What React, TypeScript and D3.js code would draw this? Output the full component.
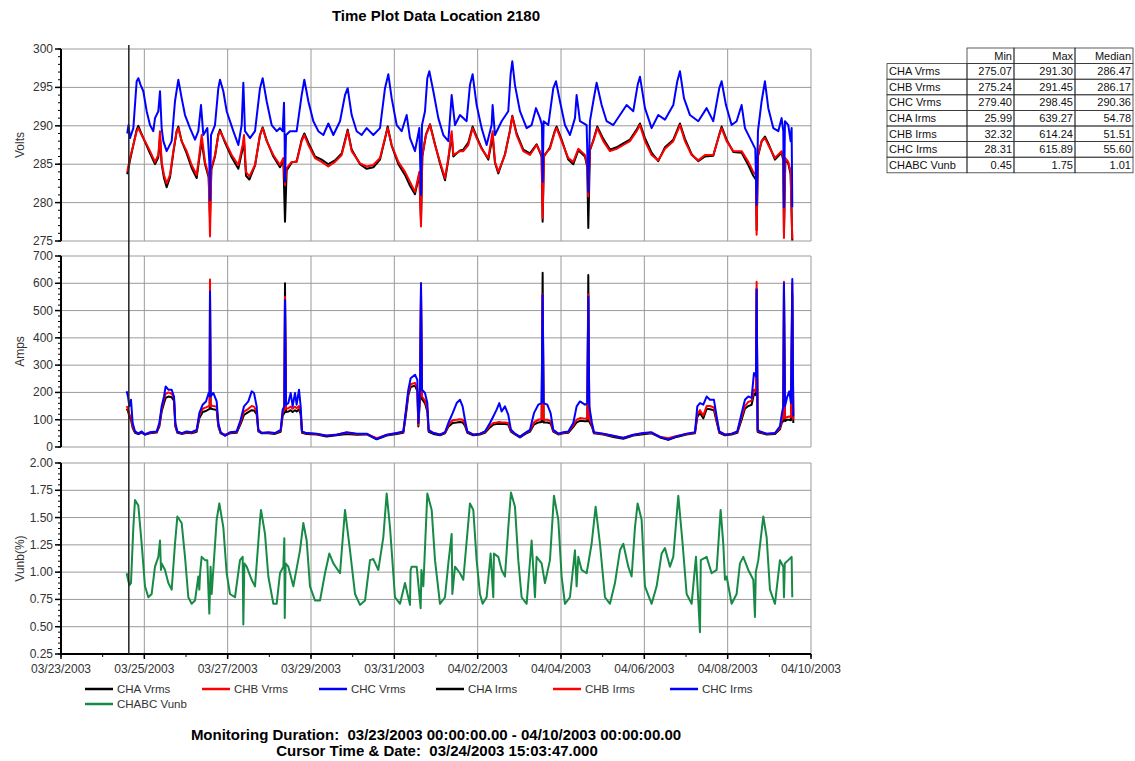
import { useRef, useEffect } from "react";
import * as d3 from "d3";

type Pt = [number, number];

// x values are days since 03/23/2003 00:00
const dateTicks = [0, 2, 4, 6, 8, 10, 12, 14, 16, 18];
const dateLabels = [
  "03/23/2003", "03/25/2003", "03/27/2003", "03/29/2003", "03/31/2003",
  "04/02/2003", "04/04/2003", "04/06/2003", "04/08/2003", "04/10/2003",
];
const cursorDay = 1 + (15 + 3 / 60 + 47 / 3600) / 24;

const chcVrms: Pt[] = [
  [1.59, 289.0], [1.62, 290.1], [1.656, 288.4], [1.736, 289.7], [1.816, 295.8], [1.856, 296.2], [1.912, 295.3],
  [1.976, 294.5], [2.056, 291.9], [2.136, 290.1], [2.216, 289.3], [2.256, 291.0], [2.336, 291.9], [2.376, 294.5],
  [2.416, 289.7], [2.456, 288.0], [2.536, 286.7], [2.656, 288.0], [2.736, 293.2], [2.816, 296.0], [2.896, 293.6],
  [2.976, 291.4], [3.096, 289.7], [3.216, 288.2], [3.296, 289.3], [3.36, 292.7], [3.416, 288.8], [3.512, 289.7],
  [3.56, 285.3], [3.576, 280.3], [3.6, 288.8], [3.696, 290.1], [3.776, 294.9], [3.816, 296.0], [3.896, 294.5],
  [3.976, 291.9], [4.136, 289.3], [4.256, 287.5], [4.336, 290.1], [4.376, 295.6], [4.416, 289.3], [4.536, 288.4],
  [4.656, 289.3], [4.776, 294.9], [4.84, 296.2], [4.936, 293.2], [5.056, 290.1], [5.176, 289.3], [5.256, 289.7],
  [5.32, 289.3], [5.352, 293.0], [5.368, 288.0], [5.376, 282.7], [5.4, 288.8], [5.496, 289.3], [5.656, 289.3],
  [5.776, 294.0], [5.84, 296.0], [5.936, 293.2], [6.056, 290.6], [6.176, 289.3], [6.296, 288.8], [6.416, 290.3],
  [6.536, 288.8], [6.696, 290.6], [6.816, 294.0], [6.88, 294.9], [6.976, 291.4], [7.096, 289.3], [7.216, 288.8],
  [7.336, 289.7], [7.496, 288.8], [7.656, 289.7], [7.776, 294.9], [7.856, 296.7], [7.936, 293.6], [8.056, 290.1],
  [8.176, 289.3], [8.296, 291.4], [8.376, 288.4], [8.496, 286.7], [8.6, 289.7], [8.64, 281.0], [8.664, 290.1],
  [8.736, 291.9], [8.792, 296.2], [8.84, 297.1], [8.936, 294.5], [9.056, 291.0], [9.176, 288.8], [9.296, 288.0],
  [9.376, 294.0], [9.456, 290.1], [9.576, 291.4], [9.735, 290.6], [9.815, 295.3], [9.879, 296.7], [9.975, 292.7],
  [10.095, 289.7], [10.215, 287.5], [10.335, 290.1], [10.359, 292.7], [10.415, 288.8], [10.575, 290.6],
  [10.735, 291.9], [10.791, 296.7], [10.831, 298.4], [10.895, 295.3], [11.015, 291.9], [11.175, 289.7],
  [11.295, 290.1], [11.399, 292.3], [11.495, 291.0], [11.543, 290.1], [11.559, 282.7], [11.583, 290.6],
  [11.695, 290.1], [11.815, 294.9], [11.879, 295.8], [11.975, 293.2], [12.095, 290.1], [12.215, 288.8],
  [12.335, 291.0], [12.375, 294.0], [12.455, 290.6], [12.615, 290.1], [12.655, 281.4], [12.695, 290.6],
  [12.775, 293.2], [12.855, 295.6], [12.975, 292.7], [13.095, 290.6], [13.255, 290.1], [13.415, 291.4],
  [13.575, 292.7], [13.735, 291.9], [13.839, 295.3], [13.895, 296.4], [14.015, 292.3], [14.175, 289.7],
  [14.335, 291.4], [14.495, 290.8], [14.695, 292.7], [14.791, 295.8], [14.855, 297.1], [14.951, 293.6],
  [15.095, 291.4], [15.295, 290.6], [15.495, 292.3], [15.655, 290.6], [15.799, 294.9], [15.855, 295.8],
  [15.959, 292.7], [16.095, 290.1], [16.215, 290.6], [16.335, 292.7], [16.415, 289.7], [16.535, 288.4],
  [16.663, 287.0], [16.695, 279.7], [16.727, 289.3], [16.815, 293.2], [16.895, 295.8], [16.975, 292.3],
  [17.095, 289.7], [17.215, 289.3], [17.295, 291.0], [17.335, 289.3], [17.351, 279.4], [17.375, 290.6],
  [17.455, 290.1], [17.511, 288.0], [17.535, 289.7], [17.551, 279.4],
];

const chbVrms: Pt[] = [
  [1.59, 284.0], [1.656, 285.8], [1.736, 287.5], [1.816, 289.3], [1.856, 289.7], [1.936, 288.8], [2.016, 288.0],
  [2.136, 286.7], [2.256, 285.3], [2.336, 286.2], [2.376, 289.3], [2.416, 285.3], [2.472, 283.6], [2.536, 282.5],
  [2.616, 283.6], [2.696, 286.7], [2.776, 289.3], [2.816, 289.7], [2.896, 288.0], [3.016, 286.7], [3.136, 284.9],
  [3.256, 283.6], [3.32, 286.2], [3.376, 288.8], [3.456, 285.3], [3.544, 283.6], [3.576, 275.6], [3.608, 284.5],
  [3.696, 286.2], [3.776, 288.8], [3.816, 289.3], [3.936, 288.0], [4.096, 286.2], [4.256, 284.9], [4.36, 287.5],
  [4.392, 288.8], [4.44, 284.0], [4.52, 283.4], [4.656, 284.9], [4.776, 288.8], [4.84, 289.7], [4.936, 288.0],
  [5.096, 286.2], [5.256, 284.9], [5.336, 285.8], [5.376, 282.3], [5.416, 284.5], [5.536, 285.3], [5.656, 285.3],
  [5.776, 288.0], [5.84, 288.8], [5.936, 287.5], [6.096, 285.8], [6.256, 285.3], [6.416, 284.7], [6.576, 285.3],
  [6.736, 286.2], [6.88, 289.3], [6.976, 286.7], [7.176, 285.1], [7.336, 284.7], [7.496, 284.9], [7.656, 285.8],
  [7.776, 288.4], [7.84, 289.7], [7.936, 287.5], [8.096, 285.3], [8.256, 284.0], [8.376, 282.7], [8.496, 281.4],
  [8.6, 284.0], [8.64, 276.9], [8.672, 286.2], [8.76, 288.8], [8.856, 290.1], [8.976, 287.5], [9.096, 285.3],
  [9.216, 283.2], [9.296, 285.8], [9.376, 289.3], [9.416, 286.2], [9.576, 286.7], [9.655, 286.7], [9.775, 287.5],
  [9.879, 289.7], [9.975, 288.4], [10.095, 287.0], [10.255, 285.8], [10.359, 289.3], [10.415, 285.3],
  [10.495, 284.0], [10.655, 286.2], [10.775, 289.3], [10.831, 291.2], [10.935, 288.8], [11.095, 286.7],
  [11.255, 286.2], [11.415, 287.5], [11.535, 286.2], [11.559, 278.0], [11.591, 286.2], [11.735, 287.0],
  [11.855, 289.3], [11.895, 289.7], [12.015, 288.0], [12.175, 285.8], [12.295, 285.3], [12.415, 287.0],
  [12.575, 286.2], [12.631, 284.9], [12.655, 280.8], [12.695, 287.0], [12.775, 288.0], [12.871, 289.7],
  [13.015, 288.0], [13.175, 286.7], [13.335, 287.0], [13.495, 287.5], [13.655, 288.0], [13.815, 289.3],
  [13.895, 290.1], [14.015, 288.0], [14.175, 286.2], [14.335, 285.5], [14.495, 287.0], [14.695, 288.0],
  [14.855, 290.1], [14.975, 288.0], [15.135, 286.2], [15.295, 285.5], [15.455, 286.2], [15.655, 286.2],
  [15.799, 288.8], [15.855, 289.7], [15.975, 288.0], [16.135, 286.7], [16.335, 286.7], [16.495, 285.3],
  [16.615, 284.0], [16.679, 283.6], [16.695, 275.8], [16.727, 286.2], [16.815, 288.0], [16.895, 288.4],
  [16.975, 287.5], [17.135, 285.8], [17.295, 286.7], [17.335, 285.8], [17.351, 275.4], [17.383, 285.8],
  [17.455, 285.3], [17.511, 284.0], [17.551, 275.24],
];

const chaVrms: Pt[] = [
  [1.59, 283.7], [1.656, 285.5], [1.736, 287.5], [1.816, 289.5], [1.856, 290.0], [1.936, 288.9], [2.016, 287.9],
  [2.136, 286.4], [2.256, 285.0], [2.336, 285.9], [2.376, 288.5], [2.416, 285.0], [2.472, 283.2], [2.536, 282.0],
  [2.616, 283.3], [2.696, 286.5], [2.776, 289.3], [2.816, 289.9], [2.896, 288.0], [3.016, 286.4], [3.136, 284.5],
  [3.256, 283.2], [3.32, 285.8], [3.376, 288.0], [3.456, 285.0], [3.544, 283.3], [3.576, 278.0], [3.608, 284.3],
  [3.696, 286.0], [3.776, 288.9], [3.816, 289.5], [3.936, 287.8], [4.096, 285.9], [4.256, 284.4], [4.36, 287.0],
  [4.392, 288.0], [4.44, 283.5], [4.52, 283.0], [4.656, 284.8], [4.776, 288.8], [4.84, 289.8], [4.936, 288.1],
  [5.096, 286.0], [5.256, 284.6], [5.336, 285.5], [5.376, 277.5], [5.416, 284.2], [5.536, 285.2], [5.656, 285.4],
  [5.776, 288.2], [5.84, 289.0], [5.936, 287.8], [6.096, 286.0], [6.256, 285.6], [6.416, 285.0], [6.576, 285.5],
  [6.736, 286.4], [6.88, 289.5], [6.976, 286.9], [7.176, 285.0], [7.336, 284.4], [7.496, 284.6], [7.656, 285.6],
  [7.776, 288.3], [7.84, 289.9], [7.936, 287.4], [8.096, 285.0], [8.256, 283.6], [8.376, 282.2], [8.496, 281.1],
  [8.6, 283.7], [8.64, 277.5], [8.672, 286.0], [8.76, 288.9], [8.856, 290.2], [8.976, 287.6], [9.096, 285.1],
  [9.216, 282.9], [9.296, 285.6], [9.376, 288.8], [9.416, 286.0], [9.576, 286.8], [9.655, 286.9], [9.775, 287.8],
  [9.879, 289.9], [9.975, 288.6], [10.095, 287.1], [10.255, 285.6], [10.359, 288.6], [10.415, 285.2],
  [10.495, 283.8], [10.655, 286.3], [10.775, 289.4], [10.831, 291.3], [10.935, 289.0], [11.095, 286.9],
  [11.255, 286.4], [11.415, 287.6], [11.535, 286.0], [11.559, 277.5], [11.591, 286.0], [11.735, 287.2],
  [11.855, 289.4], [11.895, 289.9], [12.015, 288.2], [12.175, 285.6], [12.295, 285.0], [12.415, 286.8],
  [12.575, 286.0], [12.631, 284.6], [12.655, 276.7], [12.695, 286.8], [12.775, 288.1], [12.871, 289.9],
  [13.015, 288.3], [13.175, 286.9], [13.335, 287.2], [13.495, 287.7], [13.655, 288.2], [13.815, 289.5],
  [13.895, 290.3], [14.015, 288.4], [14.175, 286.5], [14.335, 285.4], [14.495, 287.2], [14.695, 288.2],
  [14.855, 290.3], [14.975, 288.3], [15.135, 286.3], [15.295, 285.4], [15.455, 286.0], [15.655, 286.1],
  [15.799, 288.9], [15.855, 289.9], [15.975, 288.2], [16.135, 286.6], [16.335, 286.5], [16.495, 284.9],
  [16.615, 283.5], [16.679, 283.0], [16.695, 276.4], [16.727, 286.0], [16.815, 288.0], [16.895, 288.6],
  [16.975, 287.7], [17.135, 285.6], [17.295, 286.5], [17.335, 285.5], [17.351, 276.0], [17.383, 285.6],
  [17.455, 285.1], [17.511, 283.7], [17.551, 275.07],
];

// current samples share one time base
const irmsDays = [
  1.576, 1.608, 1.64, 1.68, 1.72, 1.776, 1.856, 1.936, 2.016, 2.136, 2.296, 2.36, 2.416, 2.472, 2.512, 2.576,
  2.656, 2.712, 2.744, 2.792, 2.896, 3.016, 3.136, 3.256, 3.32, 3.4, 3.48, 3.544, 3.568, 3.576, 3.592, 3.656,
  3.736, 3.776, 3.832, 3.936, 4.056, 4.216, 4.312, 4.392, 4.496, 4.576, 4.632, 4.696, 4.736, 4.816, 4.976,
  5.136, 5.272, 5.32, 5.36, 5.376, 5.4, 5.456, 5.512, 5.56, 5.616, 5.656, 5.712, 5.752, 5.784, 5.896, 6.136,
  6.376, 6.616, 6.856, 7.096, 7.336, 7.576, 7.816, 8.056, 8.216, 8.28, 8.336, 8.392, 8.496, 8.552, 8.576,
  8.616, 8.64, 8.664, 8.736, 8.792, 8.824, 8.936, 9.096, 9.216, 9.296, 9.4, 9.496, 9.576, 9.639, 9.695, 9.751,
  9.895, 10.055, 10.175, 10.295, 10.375, 10.455, 10.519, 10.575, 10.655, 10.735, 10.799, 10.895, 11.015,
  11.135, 11.255, 11.351, 11.455, 11.535, 11.559, 11.583, 11.671, 11.751, 11.815, 11.935, 12.055, 12.175,
  12.295, 12.375, 12.455, 12.575, 12.631, 12.655, 12.679, 12.743, 12.791, 13.015, 13.255, 13.495, 13.735,
  13.975, 14.175, 14.375, 14.575, 14.775, 15.015, 15.215, 15.271, 15.335, 15.415, 15.495, 15.575, 15.671,
  15.735, 15.799, 15.935, 16.095, 16.231, 16.335, 16.415, 16.495, 16.575, 16.631, 16.679, 16.695, 16.719,
  16.775, 16.935, 17.135, 17.255, 17.303, 17.335, 17.351, 17.375, 17.431, 17.479, 17.519, 17.551, 17.575,
];
const chcIrms = [
  204, 185, 149, 173, 88, 57, 49, 57, 45, 54, 57, 88, 149, 185, 222, 210,
  210, 185, 88, 57, 51, 57, 54, 63, 124, 155, 167, 198, 185, 570, 185, 198,
  167, 88, 54, 41, 54, 57, 100, 149, 167, 204, 198, 149, 63, 51, 54,
  51, 63, 137, 149, 539, 155, 161, 198, 149, 198, 155, 210, 149, 57, 51, 49,
  41, 45, 54, 49, 49, 29, 45, 51, 57, 137, 210, 252, 265, 246, 88,
  210, 600, 210, 198, 161, 63, 51, 45, 54, 88, 124, 161, 173, 149, 100, 57,
  45, 49, 57, 88, 112, 137, 161, 130, 149, 118, 63, 49, 37,
  51, 63, 124, 155, 161, 557, 161, 155, 124, 63, 49, 54, 57,
  88, 149, 167, 155, 161, 551, 149, 88, 54, 49, 41, 33, 45,
  51, 54, 37, 27, 39, 49, 54, 149, 161, 155, 185, 173, 173,
  112, 57, 45, 49, 57, 124, 173, 185, 180, 271, 259, 576, 63,
  57, 49, 51, 76, 124, 149, 600, 149, 185, 204, 161, 616, 112,
];
const chbIrms = [
  150, 140, 120, 110, 75, 55, 50, 54, 48, 52, 55, 80, 140, 175, 195, 200,
  195, 180, 80, 55, 50, 54, 52, 60, 115, 140, 145, 150, 150, 614, 152, 150,
  148, 80, 52, 45, 52, 55, 92, 130, 140, 150, 148, 130, 60, 52, 52,
  50, 60, 125, 135, 551, 140, 142, 148, 140, 148, 142, 150, 130, 55, 50, 48,
  42, 46, 52, 48, 48, 32, 44, 50, 55, 130, 200, 230, 235, 215, 80,
  190, 600, 185, 170, 140, 60, 52, 46, 52, 80, 98, 100, 102, 100, 85, 55,
  46, 48, 55, 78, 88, 90, 92, 90, 90, 88, 60, 48, 38,
  50, 60, 90, 100, 102, 560, 100, 100, 95, 60, 48, 52, 55,
  80, 100, 106, 104, 104, 560, 102, 80, 52, 48, 40, 34, 44,
  50, 52, 38, 32, 40, 48, 52, 120, 135, 115, 150, 150, 145,
  100, 55, 46, 48, 55, 110, 150, 165, 170, 210, 205, 606, 60,
  55, 48, 50, 70, 100, 105, 606, 105, 110, 112, 110, 600, 100,
];
const chaIrms = [
  140, 132, 112, 100, 70, 52, 47, 52, 46, 50, 53, 75, 130, 160, 180, 185,
  182, 170, 75, 52, 48, 52, 50, 56, 105, 128, 132, 138, 140, 560, 140, 138,
  136, 75, 50, 43, 50, 52, 85, 118, 128, 135, 134, 120, 57, 50, 50,
  48, 56, 115, 125, 600, 128, 130, 135, 128, 135, 130, 138, 120, 52, 48, 46,
  38, 43, 48, 45, 46, 28, 42, 48, 52, 120, 190, 220, 225, 205, 75,
  180, 560, 175, 160, 130, 56, 48, 43, 50, 74, 88, 90, 92, 90, 78, 52,
  43, 46, 52, 72, 82, 84, 85, 84, 84, 82, 56, 46, 35,
  47, 56, 82, 90, 92, 639, 90, 90, 86, 56, 46, 50, 52,
  74, 90, 96, 94, 94, 630, 92, 74, 50, 46, 37, 30, 42,
  47, 50, 35, 26, 37, 46, 50, 110, 125, 105, 140, 138, 135,
  92, 52, 43, 46, 52, 100, 140, 150, 155, 195, 190, 580, 56,
  52, 46, 48, 65, 90, 95, 590, 95, 100, 100, 98, 560, 88,
];

const chabcVunb: Pt[] = [
  [1.576, 0.99], [1.64, 0.88], [1.68, 0.9], [1.736, 1.41], [1.776, 1.66], [1.856, 1.61], [1.936, 1.26],
  [2.016, 0.87], [2.096, 0.77], [2.176, 0.8], [2.256, 1.05], [2.336, 1.14], [2.376, 1.29], [2.4, 1.02],
  [2.416, 1.08], [2.496, 1.02], [2.576, 0.9], [2.656, 0.84], [2.736, 1.26], [2.792, 1.51], [2.896, 1.45],
  [2.976, 1.14], [3.056, 0.77], [3.136, 0.71], [3.216, 0.74], [3.296, 0.96], [3.32, 0.84], [3.34, 1.0],
  [3.376, 1.14], [3.456, 1.11], [3.51, 1.11], [3.56, 0.62], [3.59, 1.05], [3.616, 0.8], [3.736, 1.48],
  [3.8, 1.63], [3.896, 1.41], [3.976, 0.99], [4.056, 0.8], [4.176, 0.77], [4.296, 1.11], [4.36, 1.14],
  [4.376, 0.52], [4.4, 1.08], [4.456, 1.05], [4.576, 0.93], [4.656, 0.87], [4.776, 1.48], [4.8, 1.57],
  [4.896, 1.35], [4.976, 0.96], [5.096, 0.71], [5.176, 0.71], [5.256, 0.99], [5.336, 1.05], [5.36, 1.31],
  [5.37, 0.58], [5.39, 1.08], [5.456, 1.05], [5.576, 0.87], [5.736, 1.2], [5.816, 1.45], [5.896, 1.29],
  [5.976, 0.87], [6.096, 0.74], [6.216, 0.74], [6.336, 0.99], [6.44, 1.17], [6.536, 1.08], [6.696, 0.99],
  [6.816, 1.57], [6.936, 1.2], [7.056, 0.8], [7.176, 0.7], [7.296, 0.74], [7.416, 1.11], [7.496, 1.12],
  [7.616, 1.02], [7.736, 1.32], [7.816, 1.72], [7.896, 1.41], [8.016, 0.77], [8.136, 0.71], [8.256, 0.9],
  [8.376, 0.7], [8.39, 1.02], [8.416, 1.05], [8.536, 1.05], [8.632, 0.67], [8.65, 1.02], [8.696, 0.87],
  [8.792, 1.72], [8.896, 1.57], [8.976, 1.11], [9.096, 0.71], [9.216, 0.77], [9.296, 1.08], [9.376, 1.35],
  [9.392, 0.8], [9.456, 1.05], [9.576, 0.99], [9.655, 0.93], [9.815, 1.63], [9.895, 1.57], [9.975, 1.11],
  [10.055, 0.8], [10.119, 0.71], [10.215, 0.77], [10.311, 1.17], [10.375, 0.77], [10.39, 1.17],
  [10.495, 1.14], [10.575, 1.02], [10.655, 0.96], [10.735, 1.41], [10.799, 1.73], [10.895, 1.6],
  [10.975, 1.11], [11.055, 0.77], [11.175, 0.71], [11.295, 1.29], [11.375, 0.77], [11.415, 1.14],
  [11.535, 1.08], [11.615, 0.9], [11.735, 1.11], [11.831, 1.7], [11.935, 1.48], [12.015, 0.96],
  [12.095, 0.71], [12.215, 0.77], [12.335, 1.2], [12.375, 0.87], [12.415, 1.14], [12.495, 1.02],
  [12.615, 0.99], [12.735, 1.26], [12.831, 1.6], [12.935, 1.26], [13.055, 0.77], [13.175, 0.71],
  [13.295, 0.9], [13.415, 1.2], [13.495, 1.26], [13.615, 1.05], [13.695, 0.96], [13.775, 1.41],
  [13.839, 1.63], [13.935, 1.48], [14.015, 0.87], [14.175, 0.71], [14.295, 0.87], [14.415, 1.17],
  [14.495, 1.22], [14.615, 1.05], [14.695, 1.14], [14.815, 1.7], [14.919, 1.26], [15.015, 0.8],
  [15.135, 0.71], [15.239, 1.14], [15.335, 0.45], [15.355, 1.11], [15.495, 1.14], [15.615, 0.99],
  [15.735, 1.02], [15.831, 1.57], [15.895, 1.26], [15.935, 0.93], [15.975, 0.96], [16.095, 0.71],
  [16.215, 0.8], [16.295, 1.08], [16.375, 1.14], [16.495, 1.02], [16.615, 0.93], [16.655, 0.59],
  [16.675, 1.0], [16.735, 1.11], [16.855, 1.51], [16.935, 1.32], [17.015, 0.84], [17.135, 0.71],
  [17.255, 1.11], [17.335, 1.05], [17.351, 0.77], [17.371, 1.08], [17.455, 1.11], [17.535, 1.14],
  [17.551, 0.77],
];

const legendNames = ["CHA Vrms", "CHB Vrms", "CHC Vrms", "CHA Irms", "CHB Irms", "CHC Irms", "CHABC Vunb"];
const legendColors = ["#000000", "#ff0000", "#0000ff", "#000000", "#ff0000", "#0000ff", "#178a45"];

const tableCols = ["Min", "Max", "Median"];
const tableRows = ["CHA Vrms", "CHB Vrms", "CHC Vrms", "CHA Irms", "CHB Irms", "CHC Irms", "CHABC Vunb"];
const tableMin = ["275.07", "275.24", "279.40", "25.99", "32.32", "28.31", "0.45"];
const tableMax = ["291.30", "291.45", "298.45", "639.27", "614.24", "615.89", "1.75"];
const tableMedian = ["286.47", "286.17", "290.36", "54.78", "51.51", "55.60", "1.01"];

const FONT = "'Liberation Sans', Arial, sans-serif";

export default function App() {
  const svgRef = useRef<SVGSVGElement>(null);

  useEffect(() => {
    if (!svgRef.current) return;
    const svg = d3.select(svgRef.current);
    svg.selectAll("*").remove();

    const x = d3.scaleLinear().domain([0, 18]).range([61, 811]);
    const zip = (vals: number[]): Pt[] => irmsDays.map((d, i) => [d, vals[i]]);

    const panels = [
      {
        label: "Volts", domain: [275, 300], range: [241, 49], step: 5, minor: 1, fmt: d3.format("d"),
        series: [[chaVrms, "#000000"], [chbVrms, "#ff0000"], [chcVrms, "#0000ff"]] as [Pt[], string][],
      },
      {
        label: "Amps", domain: [0, 700], range: [447, 256], step: 100, minor: 20, fmt: d3.format("d"),
        series: [[zip(chaIrms), "#000000"], [zip(chbIrms), "#ff0000"], [zip(chcIrms), "#0000ff"]] as [Pt[], string][],
      },
      {
        label: "Vunb(%)", domain: [0.25, 2.0], range: [654, 463], step: 0.25, minor: 0.05, fmt: d3.format(".2f"),
        series: [[chabcVunb, "#178a45"]] as [Pt[], string][],
      },
    ];

    svg.append("text").attr("x", 436).attr("y", 21).attr("text-anchor", "middle")
      .attr("font-family", FONT).attr("font-size", 15).attr("font-weight", "bold")
      .text("Time Plot Data Location 2180");

    panels.forEach((p) => {
      const y = d3.scaleLinear().domain(p.domain).range(p.range);
      const [top, bottom] = [p.range[1], p.range[0]];
      const g = svg.append("g");
      const n = Math.round((p.domain[1] - p.domain[0]) / p.step);
      const majors = d3.range(n + 1).map((i) => p.domain[0] + i * p.step);
      const nm = Math.round((p.domain[1] - p.domain[0]) / p.minor);
      const minors = d3.range(nm + 1).map((i) => p.domain[0] + i * p.minor);

      // grid
      g.selectAll(".hg").data(majors).join("line")
        .attr("x1", 61).attr("x2", 811).attr("y1", (d) => y(d)).attr("y2", (d) => y(d))
        .attr("stroke", "#9a9a9a").attr("stroke-width", 1);
      g.selectAll(".vg").data(dateTicks.slice(1)).join("line")
        .attr("x1", (d) => x(d)).attr("x2", (d) => x(d)).attr("y1", top).attr("y2", bottom)
        .attr("stroke", "#9a9a9a").attr("stroke-width", 1);

      // series
      const line = d3.line<Pt>().x((d) => x(d[0])).y((d) => y(d[1]));
      p.series.forEach(([data, color]) => {
        g.append("path").attr("d", line(data)).attr("fill", "none")
          .attr("stroke", color).attr("stroke-width", 2).attr("stroke-linejoin", "round");
      });

      // left axis
      g.append("line").attr("x1", 61).attr("x2", 61).attr("y1", top).attr("y2", bottom)
        .attr("stroke", "#000").attr("stroke-width", 2);
      g.selectAll(".mt").data(minors).join("line")
        .attr("x1", 58).attr("x2", 61).attr("y1", (d) => y(d)).attr("y2", (d) => y(d))
        .attr("stroke", "#000").attr("stroke-width", 1);
      g.selectAll(".Mt").data(majors).join("line")
        .attr("x1", 55).attr("x2", 61).attr("y1", (d) => y(d)).attr("y2", (d) => y(d))
        .attr("stroke", "#000").attr("stroke-width", 1.5);
      g.selectAll(".tl").data(majors).join("text")
        .attr("x", 53).attr("y", (d) => y(d) + 4).attr("text-anchor", "end")
        .attr("font-family", FONT).attr("font-size", 12).attr("fill", "#333")
        .text((d) => p.fmt(d));

      g.append("text")
        .attr("transform", `translate(24,${(top + bottom) / 2}) rotate(-90)`)
        .attr("text-anchor", "middle").attr("font-family", FONT).attr("font-size", 12)
        .attr("fill", "#333").text(p.label);
    });

    // bottom time axis
    svg.append("line").attr("x1", 61).attr("x2", 811).attr("y1", 654).attr("y2", 654)
      .attr("stroke", "#000").attr("stroke-width", 2);
    svg.selectAll(".xm").data(d3.range(0, 19)).join("line")
      .attr("x1", (d) => x(d)).attr("x2", (d) => x(d)).attr("y1", 654).attr("y2", 657)
      .attr("stroke", "#000").attr("stroke-width", 1);
    svg.selectAll(".xM").data(dateTicks).join("line")
      .attr("x1", (d) => x(d)).attr("x2", (d) => x(d)).attr("y1", 654).attr("y2", 659)
      .attr("stroke", "#000").attr("stroke-width", 1.5);
    svg.selectAll(".xl").data(dateTicks).join("text")
      .attr("x", (d) => x(d)).attr("y", 673).attr("text-anchor", "middle")
      .attr("font-family", FONT).attr("font-size", 12).attr("fill", "#333")
      .text((d, i) => dateLabels[i]);

    // cursor
    svg.append("line").attr("x1", x(cursorDay)).attr("x2", x(cursorDay)).attr("y1", 45).attr("y2", 654)
      .attr("stroke", "#222").attr("stroke-width", 1.5);

    // legend
    const lg = svg.append("g").attr("font-family", FONT).attr("font-size", 11.5).attr("fill", "#333");
    legendNames.forEach((name, i) => {
      const lx = 85 + (i % 6) * 117;
      const ly = 689 + Math.floor(i / 6) * 15;
      lg.append("line").attr("x1", lx).attr("x2", lx + 28).attr("y1", ly).attr("y2", ly)
        .attr("stroke", legendColors[i]).attr("stroke-width", 2.5);
      lg.append("text").attr("x", lx + 32).attr("y", ly + 4).text(name);
    });

    // footer
    const ft = svg.append("g").attr("font-family", FONT).attr("font-size", 15)
      .attr("font-weight", "bold").attr("text-anchor", "middle");
    ft.append("text").attr("x", 436).attr("y", 740).attr("xml:space", "preserve").style("white-space", "pre")
      .text("Monitoring Duration:  03/23/2003 00:00:00.00 - 04/10/2003 00:00:00.00");
    ft.append("text").attr("x", 437).attr("y", 756).attr("xml:space", "preserve").style("white-space", "pre")
      .text("Cursor Time & Date:  03/24/2003 15:03:47.000");

    // statistics table
    const colX = [887, 967, 1014, 1075, 1133];
    const rowH = 15.6;
    const t0 = 48;
    const tg = svg.append("g").attr("font-family", FONT).attr("font-size", 11).attr("fill", "#111");
    tableCols.forEach((c, j) => {
      tg.append("rect").attr("x", colX[j + 1]).attr("y", t0)
        .attr("width", colX[j + 2] - colX[j + 1]).attr("height", rowH)
        .attr("fill", "none").attr("stroke", "#333").attr("stroke-width", 0.8);
      tg.append("text").attr("x", colX[j + 2] - 2).attr("y", t0 + rowH - 4)
        .attr("text-anchor", "end").text(c);
    });
    const cols = [tableMin, tableMax, tableMedian];
    tableRows.forEach((r, i) => {
      const ry = t0 + rowH * (i + 1);
      tg.append("rect").attr("x", colX[0]).attr("y", ry).attr("width", colX[1] - colX[0]).attr("height", rowH)
        .attr("fill", "none").attr("stroke", "#333").attr("stroke-width", 0.8);
      tg.append("text").attr("x", colX[0] + 2).attr("y", ry + rowH - 4).text(r);
      cols.forEach((vals, j) => {
        tg.append("rect").attr("x", colX[j + 1]).attr("y", ry)
          .attr("width", colX[j + 2] - colX[j + 1]).attr("height", rowH)
          .attr("fill", "none").attr("stroke", "#333").attr("stroke-width", 0.8);
        tg.append("text").attr("x", colX[j + 2] - 2).attr("y", ry + rowH - 4)
          .attr("text-anchor", "end").text(vals[i]);
      });
    });
  }, []);

  return (
    <svg
      ref={svgRef}
      width={1135}
      height={761}
      style={{ position: "absolute", left: 0, top: 0, background: "#fff" }}
    />
  );
}
